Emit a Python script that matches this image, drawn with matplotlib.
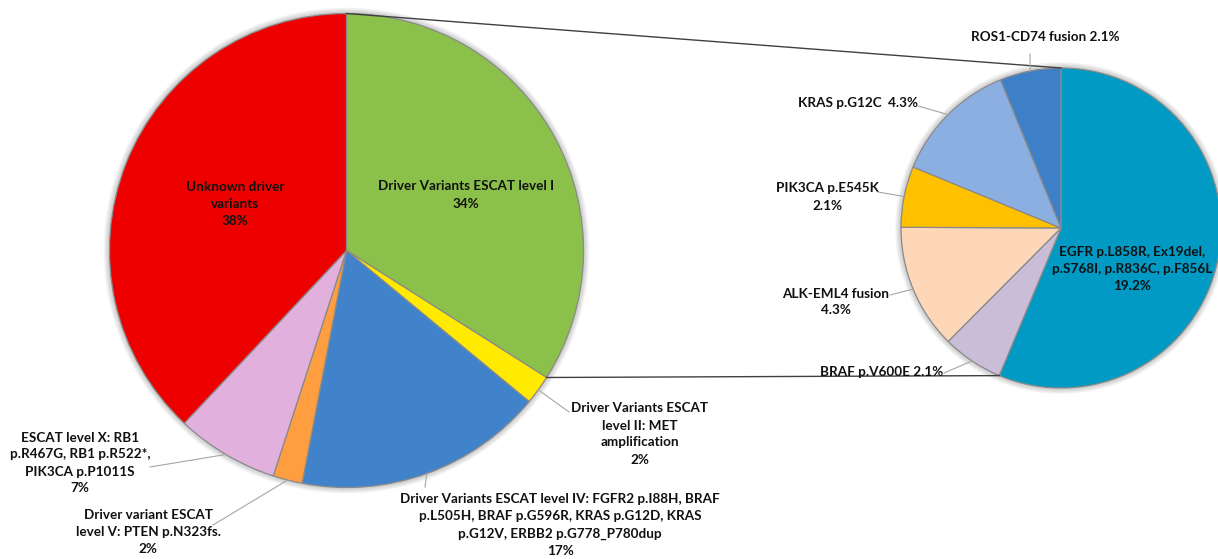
import numpy as np
import matplotlib.pyplot as plt
from matplotlib.patches import Circle

# Main pie: driver variant classes (% of patients)
main_names = [
    "Driver Variants ESCAT level I\n",
    "Driver Variants ESCAT\nlevel II: MET\namplification\n",
    "Driver Variants ESCAT level IV: FGFR2 p.I88H, BRAF\n"
    "p.L505H, BRAF p.G596R, KRAS p.G12D, KRAS\n"
    "p.G12V, ERBB2 p.G778_P780dup\n",
    "Driver variant ESCAT\nlevel V: PTEN p.N323fs.\n",
    "ESCAT level X: RB1\np.R467G, RB1 p.R522*,\nPIK3CA p.P1011S\n",
    "Unknown driver\nvariants\n",
]
main_values = [34, 2, 17, 2, 7, 38]
main_colors = ["#8BC14A", "#FFEA00", "#4183CB", "#FF9E40", "#E2B0DD", "#EE0000"]

# Secondary pie: breakdown of ESCAT level I (% of patients)
sub_names = [
    "EGFR p.L858R, Ex19del,\np.S768I, p.R836C, p.F856L\n",
    "BRAF p.V600E ",
    "ALK-EML4 fusion\n",
    "PIK3CA p.E545K\n",
    "KRAS p.G12C  ",
    "ROS1-CD74 fusion ",
]
sub_values = [19.2, 2.1, 4.3, 2.1, 4.3, 2.1]
sub_colors = ["#009AC4", "#C9BDD7", "#FDD7B7", "#FFC000", "#8BAFE0", "#3E80C8"]

W, H = 1218, 559

# layout in pixel coordinates (y measured from top)
main_center, main_r = (346.5, 250.5), 237
sub_center, sub_r = (1061, 228), 160
main_text_pos = [(466, 195), (640, 434), (560, 525), (148, 532), (80, 463), (235, 204)]
main_leader_end = [None, (569, 412), (425, 487), (213, 525), (150, 467), None]
sub_text_pos = [(1132, 269), (882, 372), (836, 302), (827, 197), (858, 103), (1045, 37)]
sub_leader_end = [None, (944, 373), (890, 295), (878, 192), (918, 106), (1030, 54)]


def flip(p):
    return (p[0], H - p[1])


fig = plt.figure(figsize=(W / 100, H / 100), dpi=100)
ax = fig.add_axes([0, 0, 1, 1])

# soft glow behind the pies (Excel-style shadow)
for c, r in [(main_center, main_r), (sub_center, sub_r)]:
    for k in range(1, 7):
        ax.add_patch(Circle(flip(c), r + k, color="#000000", alpha=0.035,
                            lw=0, zorder=0))

wedge_style = dict(edgecolor="#8a8a8a", linewidth=0.9)
main_wedges, _ = ax.pie(main_values, colors=main_colors, startangle=90,
                        counterclock=False, center=flip(main_center),
                        radius=main_r, wedgeprops=wedge_style, frame=True)
sub_wedges, _ = ax.pie(sub_values, colors=sub_colors, startangle=90,
                       counterclock=False, center=flip(sub_center),
                       radius=sub_r, wedgeprops=wedge_style, frame=True)


def on_circle(wedge, ang):
    cx, cy = wedge.center
    a = np.deg2rad(ang)
    return cx + wedge.r * np.cos(a), cy + wedge.r * np.sin(a)


# connector lines between the level I slice and the secondary pie
for a_main, a_sub in [(main_wedges[0].theta2, sub_wedges[0].theta2),
                      (main_wedges[0].theta1, sub_wedges[0].theta1)]:
    p1 = on_circle(main_wedges[0], a_main)
    p2 = on_circle(sub_wedges[0], a_sub)
    ax.plot([p1[0], p2[0]], [p1[1], p2[1]], color="#404040", lw=1.0, zorder=3)

font = dict(family=["Lato", "DejaVu Sans"], fontsize=9.7, fontweight="bold",
            color="#111111", ha="center", va="center", linespacing=1.5)


def leader(wedge, end):
    mid = (wedge.theta1 + wedge.theta2) / 2
    p = on_circle(wedge, mid)
    e = flip(end)
    ax.plot([p[0], e[0]], [p[1], e[1]], color="#a6a6a6", lw=0.8, zorder=3)


for w, name, v, pos, end in zip(main_wedges, main_names, main_values,
                                main_text_pos, main_leader_end):
    ax.text(*flip(pos), f"{name}{v}%", **font)
    if end is not None:
        leader(w, end)

for w, name, v, pos, end in zip(sub_wedges, sub_names, sub_values,
                                sub_text_pos, sub_leader_end):
    ax.text(*flip(pos), f"{name}{v}%", **font)
    if end is not None:
        leader(w, end)

ax.set_xlim(0, W)
ax.set_ylim(0, H)
ax.set_aspect("equal")
ax.axis("off")

plt.savefig("out.png", dpi=100, facecolor="white")
